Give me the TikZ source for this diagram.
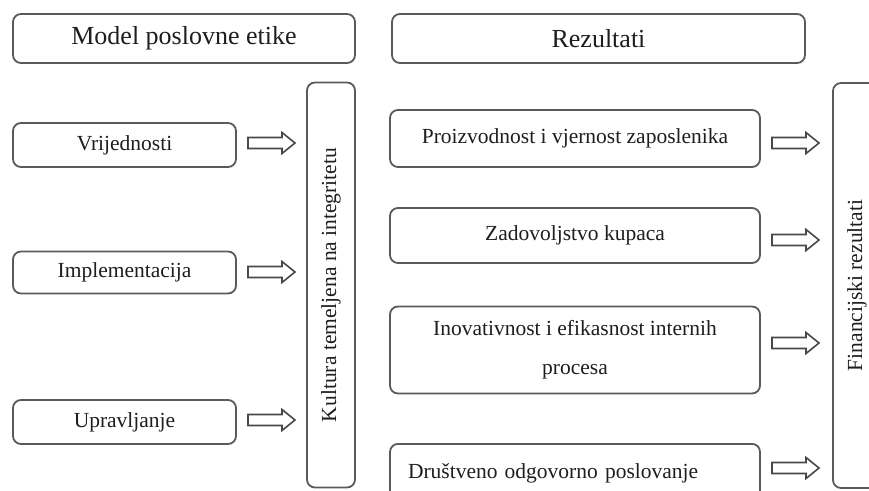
\documentclass[tikz,border=0pt]{standalone}
\usepackage{fontspec}
\setmainfont{Liberation Serif}
\definecolor{edge}{HTML}{5A5A5A}
\definecolor{ink}{HTML}{1E1E1E}
\tikzset{
  x=1pt, y=-1pt,
  box/.style={draw=edge, line width=1.8pt, rounded corners=8pt, fill=white,
    text=ink, inner sep=0pt, font=\fontsize{21.5}{39}\selectfont, align=center},
  titlebox/.style={box, font=\fontsize{26}{30}\selectfont},
  barrow/.pic={\draw[edge!80!black, line width=1.6pt, line join=miter, fill=white]
    (0,-5.5) -- (34,-5.5) -- (34,-10.5) -- (47,0) -- (34,10.5) -- (34,5.5) -- (0,5.5) -- cycle;}
}
\begin{document}
\begin{tikzpicture}
\useasboundingbox (0,0) rectangle (869,490);
\clip (0,0) rectangle (869,490);
% headers
\node[titlebox, minimum width=342pt, minimum height=49pt] (m1) at (184,38.5) {Model poslovne etike};
\node[titlebox, minimum width=413pt, minimum height=49pt] (m2) at (598.5,38.5) {Rezultati};
% left column
\node[box, minimum width=223pt, minimum height=44pt] (vr) at (124.5,145) {Vrijednosti};
\node[box, minimum width=223pt, minimum height=42pt] (im) at (124.5,272.5) {Implementacija};
\node[box, minimum width=223pt, minimum height=44pt] (up) at (124.5,422) {Upravljanje};
% culture column
\node[box, minimum width=405pt, minimum height=48pt, rotate=90] (ku) at (331,285) {Kultura temeljena na integritetu};
% results column
\node[box, minimum width=370pt, minimum height=57pt] (pr) at (575,138.5) {Proizvodnost i vjernost zaposlenika};
\node[box, minimum width=370pt, minimum height=55pt] (za) at (575,235.5) {Zadovoljstvo kupaca};
\node[box, minimum width=370pt, minimum height=87pt] (in) at (575,350) {Inovativnost i efikasnost internih\\procesa};
\node[box, minimum width=370pt, minimum height=58pt, text width=334pt, inner xsep=18pt, align=left, anchor=north] (dr) at (575,443) {Društveno odgovorno poslovanje};
% financial column
\node[box, minimum width=405pt, minimum height=48pt, rotate=90] (fi) at (857,285.5) {Financijski rezultati};
% block arrows
\pic at (248,143) {barrow};
\pic at (248,272) {barrow};
\pic at (248,420) {barrow};
\pic at (772,143) {barrow};
\pic at (772,240) {barrow};
\pic at (772,343) {barrow};
\pic at (772,468) {barrow};
\end{tikzpicture}
\end{document}
